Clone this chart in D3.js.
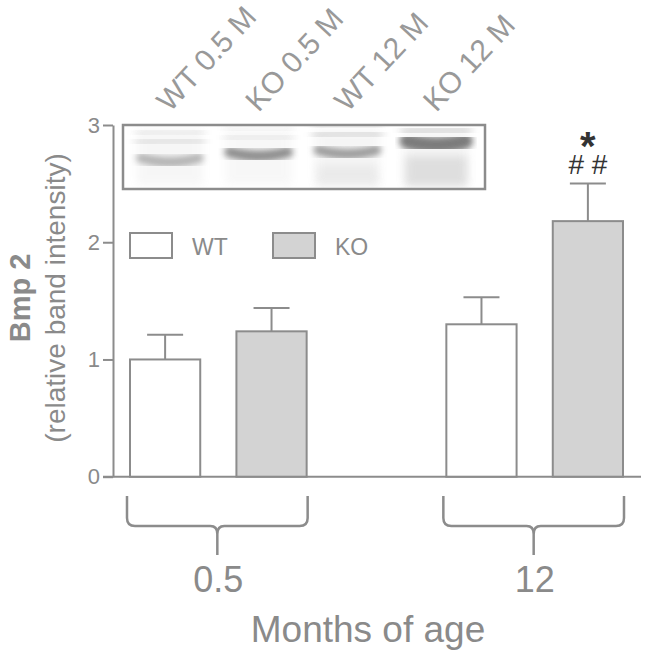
<!DOCTYPE html>
<html>
<head>
<meta charset="utf-8">
<script src="https://cdn.jsdelivr.net/npm/d3@7"></script>
<style>
  body { margin: 0; background: #fff; }
  text { font-family: "Liberation Sans", Arial, Helvetica, sans-serif; fill: #8a8a8a; }
</style>
</head>
<body>
<svg id="chart" width="649" height="659"></svg>
<script>
// data
const groups = ["0.5", "12"];
const genotypes = ["WT", "KO"];
const wtMean = [1.00, 1.30];
const koMean = [1.24, 2.18];
const wtSem = [0.21, 0.23];
const koSem = [0.20, 0.32];
const yTicks = [0, 1, 2, 3];
const laneLabels = ["WT 0.5 M", "KO 0.5 M", "WT 12 M", "KO 12 M"];
const bandDensity = [0.5, 0.78, 0.68, 0.9];
const upperDensity = [0.2, 0.12, 0.26, 0.3];

const grey = "#8c8c8c";
const koFill = "#d3d3d3";

const svg = d3.select("#chart");

const y = d3.scaleLinear().domain([0, 3]).range([476.7, 125]);
const x0 = d3.scaleBand().domain(groups).range([130, 623]).paddingInner(0.4416);
const x1 = d3.scaleBand().domain(genotypes).range([0, x0.bandwidth()]).paddingInner(0.34);

const rows = groups.flatMap((g, i) => [
  {g: g, geno: "WT", mean: wtMean[i], sem: wtSem[i]},
  {g: g, geno: "KO", mean: koMean[i], sem: koSem[i]}
]);

// y axis
const yAxis = svg.append("g")
  .attr("transform", "translate(113,0)")
  .call(d3.axisLeft(y).tickValues(yTicks).tickFormat(d3.format("d"))
    .tickSize(10).tickSizeOuter(0).tickPadding(3));
yAxis.select(".domain").attr("stroke", grey).attr("stroke-width", 2);
yAxis.selectAll(".tick line").attr("stroke", grey).attr("stroke-width", 2);
yAxis.selectAll(".tick text")
  .attr("fill", grey)
  .style("font-size", "22px")
  .style("font-family", "'Liberation Sans', Arial, sans-serif");

// x axis line
svg.append("line")
  .attr("x1", 103).attr("x2", 641)
  .attr("y1", y(0)).attr("y2", y(0))
  .attr("stroke", grey).attr("stroke-width", 2);

// error bars
const err = svg.append("g");
rows.forEach(d => {
  const cx = x0(d.g) + x1(d.geno) + x1.bandwidth() / 2;
  err.append("line")
    .attr("x1", cx).attr("x2", cx)
    .attr("y1", y(d.mean)).attr("y2", y(d.mean + d.sem))
    .attr("stroke", grey).attr("stroke-width", 2);
  err.append("line")
    .attr("x1", cx - 18).attr("x2", cx + 18)
    .attr("y1", y(d.mean + d.sem)).attr("y2", y(d.mean + d.sem))
    .attr("stroke", grey).attr("stroke-width", 2);
});

// bars
svg.append("g")
  .selectAll("rect")
  .data(rows)
  .enter()
  .append("rect")
  .attr("x", d => x0(d.g) + x1(d.geno))
  .attr("y", d => y(d.mean))
  .attr("width", x1.bandwidth())
  .attr("height", d => y(0) - y(d.mean))
  .attr("fill", d => d.geno == "KO" ? koFill : "#fff")
  .attr("stroke", grey)
  .attr("stroke-width", 2);

// significance marks above KO 12
const last = rows[3];
const lastX = x0(last.g) + x1(last.geno) + x1.bandwidth() / 2;
svg.append("text")
  .attr("x", lastX).attr("y", y(last.mean + last.sem) - 10)
  .attr("text-anchor", "middle")
  .style("font-size", "28px")
  .style("fill", "#333")
  .text("# #");
svg.append("text")
  .attr("x", lastX).attr("y", y(last.mean + last.sem) - 24)
  .attr("text-anchor", "middle")
  .style("font-size", "40px")
  .style("font-weight", "bold")
  .style("fill", "#333")
  .text("*");

// legend
const legend = svg.append("g");
genotypes.forEach((g, i) => {
  const lx = 130 + i * 143;
  legend.append("rect")
    .attr("x", lx).attr("y", 233)
    .attr("width", 42).attr("height", 25)
    .attr("fill", g == "KO" ? koFill : "#fff")
    .attr("stroke", grey).attr("stroke-width", 2);
  legend.append("text")
    .attr("x", lx + 62).attr("y", 255)
    .style("font-size", "23px")
    .text(g);
});

// braces under the groups
function brace(a, b) {
  const top = 496, mid = 526, bot = 555, c = (a + b) / 2;
  return "M" + a + "," + top + " L" + a + "," + (mid - 8) +
    " Q" + a + "," + mid + " " + (a + 8) + "," + mid +
    " L" + (c - 7) + "," + mid + " Q" + c + "," + mid + " " + c + "," + (mid + 8) +
    " L" + c + "," + bot +
    " M" + c + "," + (mid + 8) + " Q" + c + "," + mid + " " + (c + 7) + "," + mid +
    " L" + (b - 8) + "," + mid + " Q" + b + "," + mid + " " + b + "," + (mid - 8) +
    " L" + b + "," + top;
}
svg.append("g")
  .selectAll("path")
  .data(groups)
  .enter()
  .append("path")
  .attr("d", g => brace(x0(g) - 3, x0(g) + x0.bandwidth() + 1))
  .attr("fill", "none")
  .attr("stroke", grey)
  .attr("stroke-width", 2.5);

svg.append("g")
  .selectAll("text")
  .data(groups)
  .enter()
  .append("text")
  .attr("x", g => x0(g) + x0.bandwidth() / 2)
  .attr("y", 592)
  .attr("text-anchor", "middle")
  .style("font-size", "36px")
  .text(g => g);

svg.append("text")
  .attr("x", 368).attr("y", 642)
  .attr("text-anchor", "middle")
  .style("font-size", "37px")
  .text("Months of age");

// y labels
svg.append("text")
  .attr("transform", "translate(30,298) rotate(-90)")
  .attr("text-anchor", "middle")
  .style("font-size", "29px")
  .style("font-weight", "bold")
  .text("Bmp 2");
svg.append("text")
  .attr("transform", "translate(65,298) rotate(-90)")
  .attr("text-anchor", "middle")
  .style("font-size", "28px")
  .text("(relative band intensity)");

// western blot inset
const blot = {x: 123, y: 125, w: 362, h: 64};
const lane = d3.scaleBand().domain(laneLabels).range([133, 473]).paddingInner(0.17);
const bandY = [161, 155, 153, 144];
const bandW = [10, 11, 10, 16];
const upperY = [141, 137, 134, 130];

const defs = svg.append("defs");
defs.append("filter").attr("id", "blur").attr("x", "-20%").attr("y", "-100%")
  .attr("width", "140%").attr("height", "300%")
  .append("feGaussianBlur").attr("stdDeviation", 3);
defs.append("filter").attr("id", "blur2").attr("x", "-20%").attr("y", "-100%")
  .attr("width", "140%").attr("height", "300%")
  .append("feGaussianBlur").attr("stdDeviation", 4);
defs.append("clipPath").attr("id", "blotclip")
  .append("rect").attr("x", blot.x).attr("y", blot.y).attr("width", blot.w).attr("height", blot.h);

const bg = svg.append("g").attr("clip-path", "url(#blotclip)");
bg.append("rect").attr("x", blot.x).attr("y", blot.y).attr("width", blot.w).attr("height", blot.h)
  .attr("fill", "#fff");

laneLabels.forEach((l, i) => {
  const a = lane(l) + 4, b = lane(l) + lane.bandwidth() - 4, m = (a + b) / 2;
  // faint smear in the lane
  bg.append("rect")
    .attr("x", a).attr("y", blot.y + 4)
    .attr("width", b - a).attr("height", blot.h - 8)
    .attr("fill", "#999")
    .attr("opacity", 0.06 + 0.1 * upperDensity[i])
    .attr("filter", "url(#blur2)");
  if (i >= 2) {
    bg.append("rect")
      .attr("x", a + 2).attr("y", bandY[i] + 12)
      .attr("width", b - a - 4).attr("height", blot.y + blot.h - bandY[i] - 14)
      .attr("fill", "#aaa")
      .attr("opacity", i == 3 ? 0.3 : 0.14)
      .attr("filter", "url(#blur2)");
  }
  // upper faint bands
  [0, -9].forEach(off => {
    bg.append("path")
      .attr("d", "M" + a + "," + (upperY[i] + off + 1) + " Q" + m + "," + (upperY[i] + off - 1) + " " + b + "," + (upperY[i] + off))
      .attr("fill", "none")
      .attr("stroke", "#777")
      .attr("stroke-width", 7)
      .attr("stroke-linecap", "round")
      .attr("opacity", off == 0 ? upperDensity[i] : upperDensity[i] * 0.6)
      .attr("filter", "url(#blur2)");
  });
  // main band
  bg.append("path")
    .attr("d", "M" + (a + 4) + "," + (bandY[i] - 3) + " Q" + m + "," + (bandY[i] + 5) + " " + (b - 4) + "," + (bandY[i] - 3))
    .attr("fill", "none")
    .attr("stroke", "#6e6e6e")
    .attr("stroke-width", bandW[i])
    .attr("stroke-linecap", "round")
    .attr("opacity", bandDensity[i])
    .attr("filter", "url(#blur)");
});

svg.append("rect").attr("x", blot.x).attr("y", blot.y).attr("width", blot.w).attr("height", blot.h)
  .attr("fill", "none").attr("stroke", grey).attr("stroke-width", 2.5);

svg.append("g")
  .selectAll("text")
  .data(laneLabels)
  .enter()
  .append("text")
  .attr("transform", l => "translate(" + (lane(l) + lane.bandwidth() / 2) + ",113) rotate(-47)")
  .style("font-size", "30px")
  .style("fill", "#999")
  .text(l => l);
</script>
</body>
</html>
